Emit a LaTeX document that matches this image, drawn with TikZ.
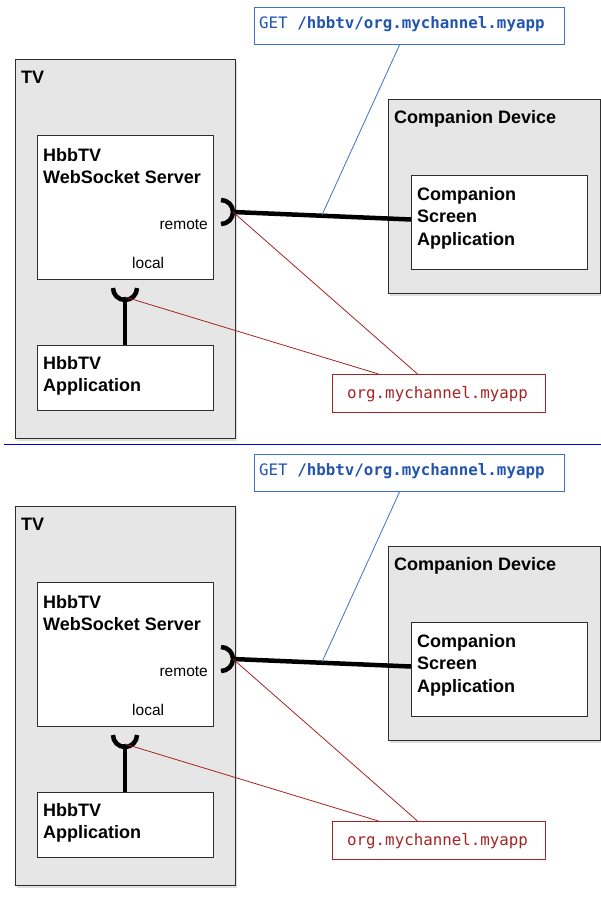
\documentclass[tikz,border=0pt]{standalone}
\usepackage{fontspec}
\setmainfont{Liberation Sans}
\newfontfamily\hbbmono{DejaVu Sans Mono}
\usetikzlibrary{shadows}
\definecolor{boxgray}{RGB}{230,230,230}
\definecolor{bordergray}{RGB}{45,45,45}
\definecolor{getblue}{RGB}{60,115,200}
\definecolor{gettext}{RGB}{35,85,175}
\definecolor{redc}{RGB}{165,35,35}
\definecolor{sepblue}{RGB}{0,0,225}
\tikzset{
  outerbox/.style={draw=bordergray, line width=1pt, fill=boxgray, anchor=north west, inner sep=0pt,
    drop shadow={shadow xshift=1pt, shadow yshift=-2pt, opacity=0.25}},
  innerbox/.style={draw=bordergray, line width=1pt, fill=white, anchor=north west, inner sep=0pt},
  boldlbl/.style={font=\fontsize{18}{22.5}\selectfont\bfseries, anchor=base west, inner sep=0pt, align=left},
  smalllbl/.style={font=\fontsize{15.5}{18}\selectfont, inner sep=0pt},
  socket/.style={line width=4.5pt, black},
  wire/.style={line width=4.5pt, black},
  redline/.style={draw=redc, line width=0.8pt},
  blueline/.style={draw=getblue, line width=0.8pt},
}
\newcommand{\hbbhalf}{%
  % TV
  \node[outerbox, minimum width=220pt, minimum height=379pt] (tv) at (15,59) {};
  \node[boldlbl] (tvlbl) at (21,83) {TV};
  \node[innerbox, minimum width=176pt, minimum height=144pt] (srv) at (37,135) {};
  \node[boldlbl, anchor=north west] (srvlbl) at (43,148) {HbbTV\\WebSocket Server};
  \node[smalllbl, anchor=base east] (remote) at (208,229) {remote};
  \node[smalllbl, anchor=base west] (local) at (132,268) {local};
  \node[innerbox, minimum width=176pt, minimum height=65pt] (app) at (37,345) {};
  \node[boldlbl, anchor=north west] (applbl) at (43,356) {HbbTV\\Application};
  % Companion device
  \node[outerbox, minimum width=212pt, minimum height=194pt] (cd) at (388,99) {};
  \node[boldlbl] (cdlbl) at (394,123) {Companion Device};
  \node[innerbox, minimum width=176pt, minimum height=94pt] (csa) at (411,175) {};
  \node[boldlbl, anchor=north west] (csalbl) at (417,187) {Companion\\Screen\\Application};
  % labels
  \node[draw=getblue, line width=1pt, anchor=north west, inner sep=0pt, minimum width=310pt, minimum height=37pt] (get) at (254,7) {};
  \node[anchor=base west, inner sep=0pt, text=gettext, font=\hbbmono\fontsize{15.8}{18}\selectfont] (gettxt) at (259,28) {GET \textbf{/hbbtv/org.mychannel.myapp}};
  \node[draw=redc, line width=1pt, anchor=north west, inner sep=0pt, minimum width=213pt, minimum height=38pt] (red) at (332,374) {};
  \node[anchor=base west, inner sep=0pt, text=redc, font=\hbbmono\fontsize{15.8}{18}\selectfont] (redtxt) at (347,398) {org.mychannel.myapp};
  % sockets
  \coordinate (rsock) at (233,212);
  \coordinate (lsock) at (125,297);
  \draw[socket] (221,200) arc[start angle=90, end angle=-90, radius=12pt];
  \draw[socket] (113,288) arc[start angle=180, end angle=360, radius=12pt];
  \draw[wire] (lsock) -- (app.north -| lsock);
  \draw[wire] (rsock) -- ([yshift=3pt]csa.west);
  \coordinate (wiremid) at (322,215);
  % annotation lines
  \draw[blueline] ([xshift=-10pt]get.south) -- (wiremid);
  \draw[redline] (rsock) -- ([xshift=-21.5pt]red.north);
  \draw[redline] (lsock) -- ([xshift=-60.5pt]red.north);
}
\begin{document}
\begin{tikzpicture}[x=1pt, y=-1pt]
\useasboundingbox (0,0) rectangle (601,898);
\begin{scope}[name prefix=top-]
\hbbhalf
\end{scope}
\coordinate (sepL) at (4,444.5);
\coordinate (sepR) at (601,444.5);
\draw[sepblue, line width=1.8pt] (sepL) -- (sepR);
\begin{scope}[yshift=-447pt, name prefix=bot-]
\hbbhalf
\end{scope}
\end{tikzpicture}
\end{document}
